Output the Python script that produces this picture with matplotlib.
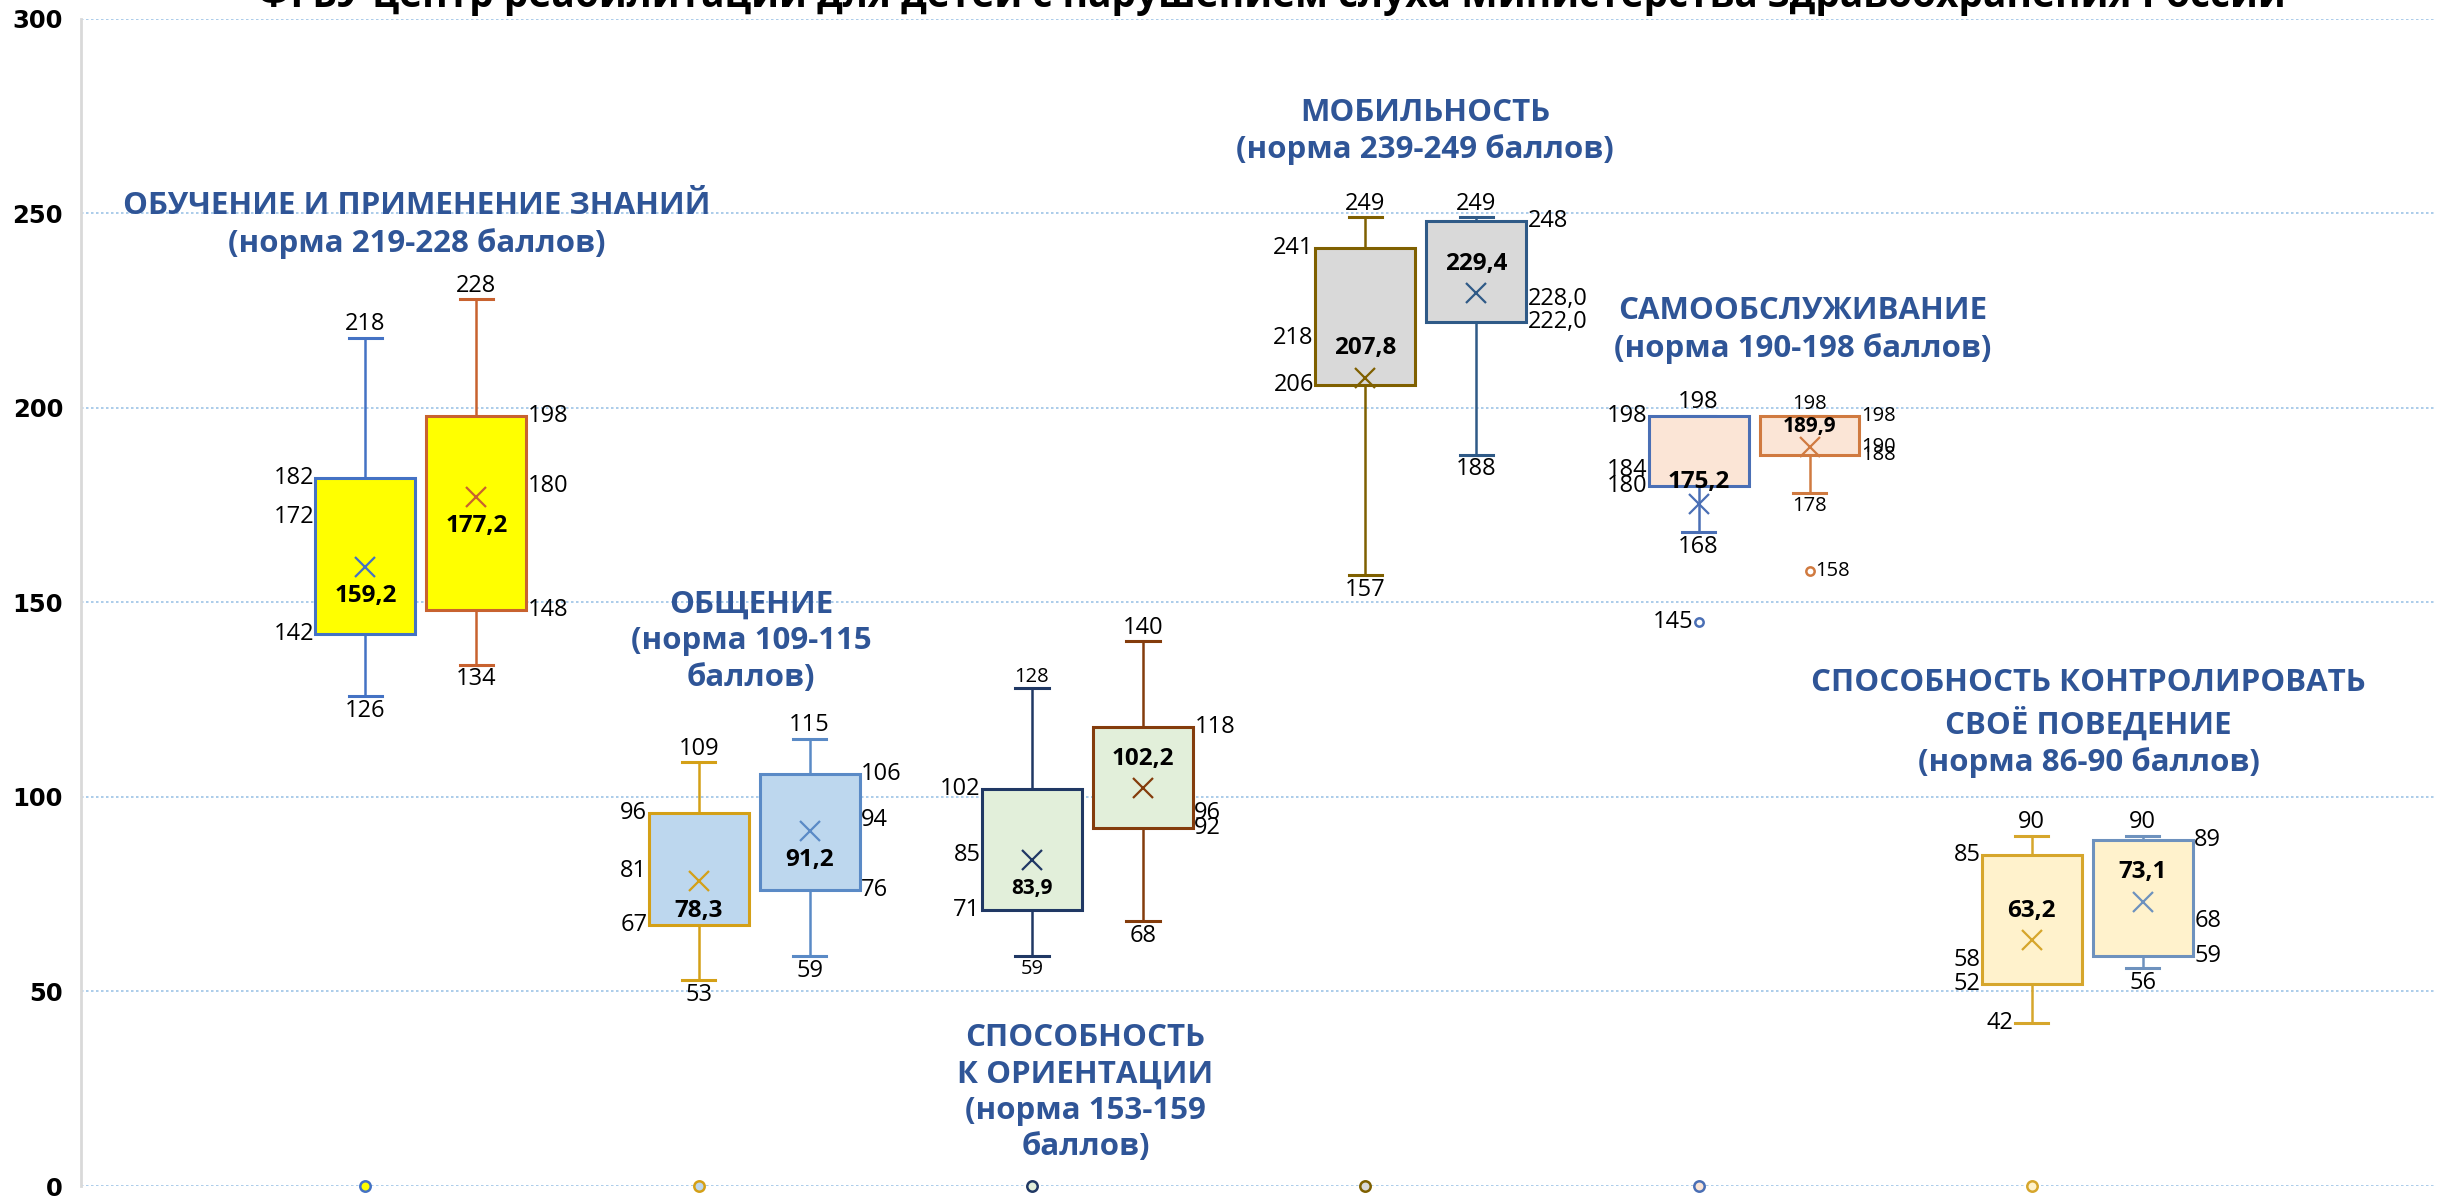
import numpy as np
import matplotlib.pyplot as plt

plt.rcParams['font.family'] = ['Open Sans', 'DejaVu Sans']

title = 'ФГБУ центр реабилитации для детей с нарушением слуха Министерства здравоохранения России'

titles = [
    'ОБУЧЕНИЕ И ПРИМЕНЕНИЕ ЗНАНИЙ\n(норма 219-228 баллов)',
    'ОБЩЕНИЕ\n(норма 109-115\nбаллов)',
    'СПОСОБНОСТЬ\nК ОРИЕНТАЦИИ\n(норма 153-159\nбаллов)',
    'МОБИЛЬНОСТЬ\n(норма 239-249 баллов)',
    'САМООБСЛУЖИВАНИЕ\n(норма 190-198 баллов)',
    'СПОСОБНОСТЬ КОНТРОЛИРОВАТЬ\nСВОЁ ПОВЕДЕНИЕ\n(норма 86-90 баллов)',
]

# first box of every group
a_low = [126, 53, 59, 157, 168, 42]
a_q1 = [142, 67, 71, 206, 180, 52]
a_med = [172, 81, 85, 218, 184, 58]
a_q3 = [182, 96, 102, 241, 198, 85]
a_high = [218, 109, 128, 249, 198, 90]
a_mean = [159.2, 78.3, 83.9, 207.8, 175.2, 63.2]
a_out = [[], [], [], [], [145], []]

# second box of every group
b_low = [134, 59, 68, 188, 178, 56]
b_q1 = [148, 76, 92, 222, 188, 59]
b_med = [180, 94, 96, 228, 190, 68]
b_q3 = [198, 106, 118, 248, 198, 89]
b_high = [228, 115, 140, 249, 198, 90]
b_mean = [177.2, 91.2, 102.2, 229.4, 189.9, 73.1]
b_out = [[], [], [], [], [158], []]

zero_vals = [0, 0, 0, 0, 0, 0]
yticks = [0, 50, 100, 150, 200, 250, 300]

fills = ['#FFFF00', '#BDD7EE', '#E2EFDA', '#D9D9D9', '#FBE5D6', '#FFF2CC']
a_edges = ['#4472C4', '#D4A017', '#203864', '#7F6000', '#4A6FB5', '#D6A62C']
b_edges = ['#C8622F', '#5A8AC6', '#843C0C', '#2F5A87', '#D07A40', '#6E92BE']
navy = '#2F5597'

fig = plt.figure(figsize=(24.5, 11.98), dpi=100)
ax = fig.add_axes([0.0331, 0.0100, 0.9604, 0.9743])

xa = np.arange(6, dtype=float)
xb = xa + 0.333
w = 0.30


def stats(lo, q1, med, q3, hi, mean, out):
    return [dict(whislo=lo[i], q1=q1[i], med=med[i], q3=q3[i], whishi=hi[i],
                 mean=mean[i], fliers=out[i]) for i in range(len(lo))]


def draw(pos, st, edges):
    r = ax.bxp(st, positions=pos, widths=w, patch_artist=True, showmeans=True,
               showfliers=True, capwidths=0.1, manage_ticks=False)
    for i in range(len(pos)):
        c = edges[i]
        r['boxes'][i].set(facecolor=fills[i], edgecolor=c, linewidth=2.2, zorder=3)
        r['medians'][i].set(color=c, linewidth=2)
        for k in (2 * i, 2 * i + 1):
            r['whiskers'][k].set(color=c, linewidth=1.8)
            r['caps'][k].set(color=c, linewidth=2.2)
        r['means'][i].set(marker='x', markersize=14, markeredgewidth=1.6,
                          markeredgecolor=c, zorder=5)
        r['fliers'][i].set(marker='o', markersize=6, markerfacecolor='white',
                           markeredgecolor=c, markeredgewidth=1.8)


draw(xa, stats(a_low, a_q1, a_med, a_q3, a_high, a_mean, a_out), a_edges)
draw(xb, stats(b_low, b_q1, b_med, b_q3, b_high, b_mean, b_out), b_edges)

for i in range(6):
    ax.plot(xa[i], zero_vals[i], 'o', ms=7.5, mfc=fills[i], mec=a_edges[i], mew=1.8,
            clip_on=False, zorder=6)


def lab(x, y, s, dx, dy, ha, va, size=17, weight='normal'):
    ax.annotate(s, (x, y), xytext=(dx, dy), textcoords='offset points', ha=ha, va=va,
                fontsize=size, fontweight=weight, color='black', zorder=7)


def num(v, dec=0):
    return f'{v:.{dec}f}'.replace('.', ',')


small_a = [False, False, True, False, False, False]
small_b = [False, False, False, False, True, False]
mean_up_a = [False, False, False, True, True, True]
mean_up_b = [False, False, True, True, True, True]
inner_dec_b = [0, 0, 0, 1, 0, 0]

for i in range(6):
    # first box: quartile labels on the left
    x = xa[i]
    fs = 14.5 if small_a[i] else 17
    for v in (a_q3[i], a_med[i], a_q1[i]):
        lab(x - w / 2, v, num(v), -1, 0, 'right', 'center')
    lab(x, a_high[i], num(a_high[i]), 0, 1, 'center', 'bottom', fs)
    if i == 5:
        lab(x - 0.05, a_low[i], num(a_low[i]), -1, 0, 'right', 'center')
    else:
        lab(x, a_low[i], num(a_low[i]), 0, -2, 'center', 'top', fs)
    off = 16 if i == 4 else 21
    lab(x, a_mean[i], num(a_mean[i], 1), 0, off if mean_up_a[i] else -off,
        'center', 'center', 15 if small_a[i] else 17.5, 'bold')
    for v in a_out[i]:
        lab(x, v, num(v), -4, 0, 'right', 'center')

    # second box: quartile labels on the right
    x = xb[i]
    fs = 14.5 if small_b[i] else 17
    d = inner_dec_b[i]
    for v, dd in ((b_q3[i], 0), (b_med[i], d), (b_q1[i], d)):
        lab(x + w / 2, v, num(v, dd), 1, 0, 'left', 'center', fs)
    lab(x, b_high[i], num(b_high[i]), 0, 1, 'center', 'bottom', fs)
    lab(x, b_low[i], num(b_low[i]), 0, -2, 'center', 'top', fs)
    off = 15 if i == 4 else 21
    lab(x, b_mean[i], num(b_mean[i], 1), 0, off if mean_up_b[i] else -off,
        'center', 'center', 15 if small_b[i] else 17.5, 'bold')
    for v in b_out[i]:
        lab(x, v, num(v), 4, 0, 'left', 'center', fs)

title_x = [0.155, 1.158, 2.161, 3.179, 4.313, 5.171]
title_y = [247, 140, 24, 271, 220, 119]
for i in range(6):
    ax.text(title_x[i], title_y[i], titles[i], ha='center', va='center',
            multialignment='center', fontsize=22.5, fontweight='bold', color=navy,
            linespacing=1.28, zorder=8)

ax.set_xlim(-0.853, 6.207)
ax.set_ylim(0, 300)
ax.set_yticks(yticks)
ax.set_yticklabels([str(t) for t in yticks], fontfamily='DejaVu Sans',
                   fontweight='bold', fontsize=17.5)
ax.tick_params(axis='y', length=0, pad=13)
ax.set_xticks([])
ax.grid(axis='y', color='#9DC3E6', linestyle=(0, (1.5, 1.5)), linewidth=1.2)
ax.set_axisbelow(True)
for s in ('top', 'right', 'bottom'):
    ax.spines[s].set_visible(False)
ax.spines['left'].set_color('#D9D9D9')
ax.spines['left'].set_linewidth(2)

fig.text(0.519, 0.9945, title, ha='center', va='baseline', fontsize=28,
         fontweight='bold', color='black')

fig.savefig('out.png', dpi=100)
